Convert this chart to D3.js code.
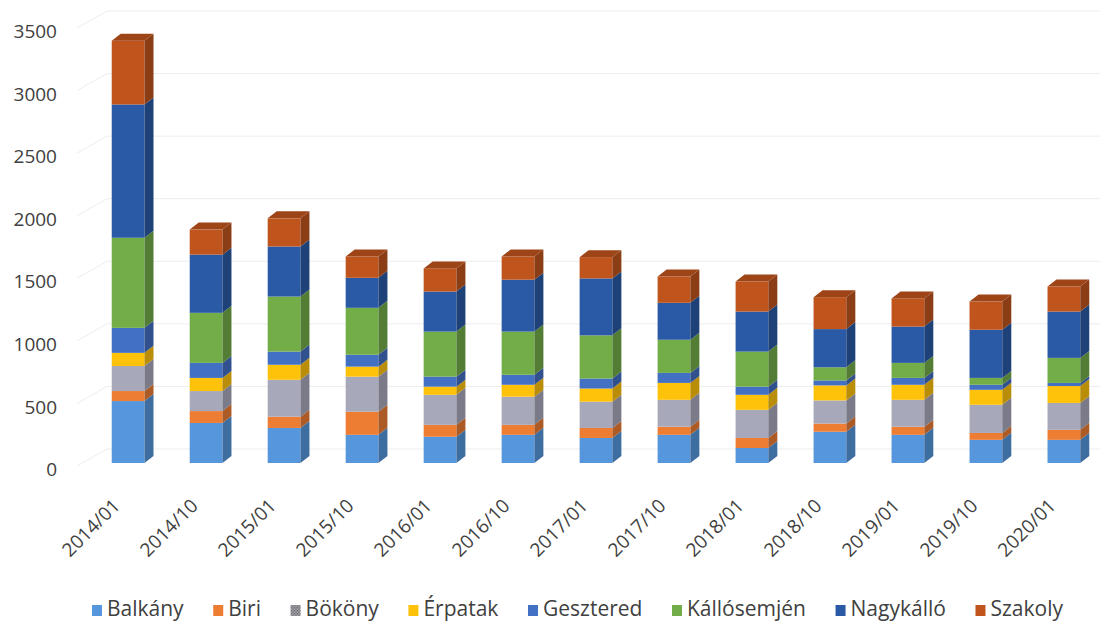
<!DOCTYPE html>
<html><head><meta charset="utf-8">
<script src="https://cdn.jsdelivr.net/npm/d3@7"></script>
<style>body{margin:0;background:#fff}svg{display:block;font-family:"Open Sans",sans-serif}</style>
</head><body><svg id="c" width="1107" height="622"></svg>
<script>
const categories = ["2014/01","2014/10","2015/01","2015/10","2016/01","2016/10","2017/01","2017/10","2018/01","2018/10","2019/01","2019/10","2020/01"];
const balkany     = [495, 320, 280, 225, 210, 225, 200, 225, 120, 250, 225, 185, 185];
const biri        = [ 80,  95,  90, 185,  95,  80,  80,  65,  80,  65,  65,  55,  80];
const bokony      = [200, 160, 295, 280, 240, 225, 210, 215, 225, 185, 215, 225, 215];
const erpatak     = [105, 105, 120,  80,  65,  95, 105, 135, 120, 120, 120, 120, 135];
const gesztered   = [200, 120, 105,  95,  80,  80,  80,  80,  65,  40,  55,  40,  25];
const kallosemjen = [720, 400, 440, 375, 360, 345, 345, 265, 280, 105, 120,  55, 200];
const nagykallo   = [1065, 465, 400, 240, 320, 415, 455, 295, 320, 305, 290, 385, 370];
const szakoly     = [510, 200, 225, 170, 185, 185, 170, 210, 240, 255, 225, 225, 200];
const seriesNames = ["Balkány","Biri","Bököny","Érpatak","Gesztered","Kállósemjén","Nagykálló","Szakoly"];
const seriesValues = [balkany, biri, bokony, erpatak, gesztered, kallosemjen, nagykallo, szakoly];
const yTicks = [0,500,1000,1500,2000,2500,3000,3500];
const colors = ["#5596dc","#ee7d34","#a8a8bb","#ffc20a","#4270c3","#72ad48","#2a59a6","#c0541d"];

const svg = d3.select("#c");
const defs = svg.append("defs");
const pat = defs.append("pattern").attr("id","bokPat").attr("width",3).attr("height",3).attr("patternUnits","userSpaceOnUse");
pat.append("rect").attr("width",3).attr("height",3).attr("fill","#b8b8c4");
pat.append("rect").attr("width",1.5).attr("height",1.5).attr("fill","#555");
pat.append("rect").attr("x",1.5).attr("y",1.5).attr("width",1.5).attr("height",1.5).attr("fill","#666");

const y = d3.scaleLinear().domain([0,3500]).range([463,25]);
const x = d3.scaleBand().domain(categories).range([86,1106]).paddingInner(0.58).paddingOuter(0.33);
const DX = 9, DY = 7;

// back-wall gridlines
svg.append("g").selectAll("path").data(yTicks).join("path")
  .attr("d", v => `M77,${y(v)+3}L107,${y(v)-14}L1100,${y(v)-14}`)
  .attr("fill","none").attr("stroke","#ededed").attr("stroke-width",1);

// y axis
const gy = svg.append("g").attr("transform","translate(57,6.5)")
  .call(d3.axisLeft(y).tickValues(yTicks).tickFormat(d3.format("d")).tickSize(0).tickPadding(0));
gy.select(".domain").remove();
gy.attr("font-family","'Open Sans',sans-serif").attr("font-size",19);
gy.selectAll("text").attr("fill","#404040");

// stacked data
const rows = categories.map((c,j) => {
  const r = {cat:c};
  seriesNames.forEach((s,i) => r[s] = seriesValues[i][j]);
  return r;
});
const stacked = d3.stack().keys(seriesNames)(rows);

const bw = x.bandwidth();
const gBars = svg.append("g");
categories.forEach((c,j) => {
  const g = gBars.append("g");
  const xl = x(c), xr = xl + bw;
  stacked.forEach((layer,i) => {
    const seg = layer[j];
    const y0 = y(seg[0]), y1 = y(seg[1]);
    const col = d3.color(colors[i]);
    g.append("rect").attr("x",xl).attr("y",y1).attr("width",bw).attr("height",y0-y1).attr("fill",col.formatHex());
    g.append("path").attr("d",`M${xr},${y1}L${xr+DX},${y1-DY}L${xr+DX},${y0-DY}L${xr},${y0}Z`)
      .attr("fill",col.darker(0.9).formatHex());
    if (i === stacked.length-1) {
      g.append("path").attr("d",`M${xl},${y1}L${xl+DX},${y1-DY}L${xr+DX},${y1-DY}L${xr},${y1}Z`)
        .attr("fill",col.darker(0.55).formatHex());
    }
  });
});

// x axis labels
const gx = svg.append("g").attr("transform","translate(0,463)")
  .call(d3.axisBottom(x).tickSize(0));
gx.select(".domain").remove();
gx.attr("font-family","'Open Sans',sans-serif").attr("font-size",19);
gx.selectAll("text").attr("fill","#404040").attr("x",0).attr("y",0).attr("dy",0)
  .attr("transform","translate(-7,44) rotate(-45)").style("text-anchor","end");

// legend
const leg = svg.append("g").attr("font-size",21).attr("fill","#404040");
const items = leg.selectAll("g").data(seriesNames).join("g");
items.append("rect").attr("x",0).attr("y",-11).attr("width",10).attr("height",11)
  .attr("fill",(d,i) => i===2 ? "url(#bokPat)" : colors[i]);
items.append("text").attr("x",15).attr("y",0).text(d => d);
const widths = [];
items.each(function(){ widths.push(15 + d3.select(this).select("text").node().getComputedTextLength()); });
const legStart = 92, legEnd = 1063;
const gap = (legEnd - legStart - d3.sum(widths)) / (widths.length - 1);
const xs = []; let pos = legStart;
widths.forEach(w => { xs.push(pos); pos += w + gap; });
items.attr("transform",(d,i) => `translate(${xs[i]},616)`);
</script></body></html>
